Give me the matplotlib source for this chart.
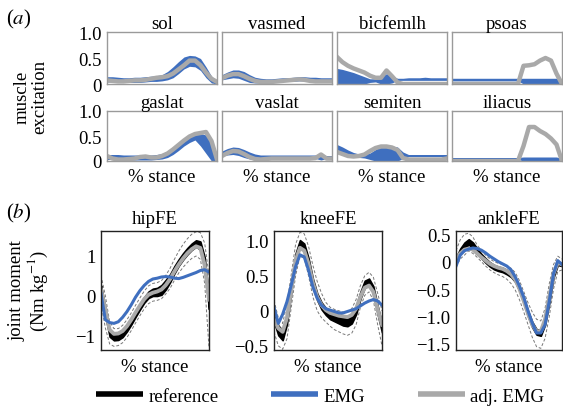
import numpy as np
import matplotlib
matplotlib.use('Agg')
import matplotlib.pyplot as plt
from matplotlib.lines import Line2D

plt.rcParams['font.family'] = ['Liberation Serif', 'DejaVu Serif']
plt.rcParams['mathtext.fontset'] = 'stix'
FS = 13.5
plt.rcParams['font.size'] = FS

BLUE = '#3f6fbf'
GREY = '#a9a9a9'

# ---- (a) muscle excitation, sampled every 5 % stance ----
stance_a = np.linspace(0, 100, 21)

muscles_top = ['sol', 'vasmed', 'bicfemlh', 'psoas']
muscles_bot = ['gaslat', 'vaslat', 'semiten', 'iliacus']

sol_lo = [0.04, 0.04, 0.03, 0.03, 0.03, 0.03, 0.03, 0.04, 0.05, 0.05, 0.06, 0.08, 0.12, 0.20, 0.29, 0.34, 0.33, 0.26, 0.12, 0.02, 0.0]
sol_hi = [0.14, 0.14, 0.13, 0.12, 0.12, 0.13, 0.13, 0.14, 0.15, 0.16, 0.18, 0.24, 0.33, 0.43, 0.52, 0.55, 0.54, 0.49, 0.33, 0.15, 0.06]
sol_adj = [0.07, 0.06, 0.05, 0.05, 0.06, 0.07, 0.07, 0.08, 0.10, 0.12, 0.13, 0.15, 0.20, 0.28, 0.36, 0.45, 0.45, 0.36, 0.22, 0.10, 0.04]

vasmed_lo = [0.08, 0.10, 0.12, 0.11, 0.07, 0.03, 0.02, 0.02, 0.03, 0.04, 0.05, 0.05, 0.05, 0.05, 0.06, 0.06, 0.06, 0.06, 0.06, 0.06, 0.06]
vasmed_hi = [0.18, 0.23, 0.27, 0.27, 0.24, 0.18, 0.13, 0.11, 0.10, 0.10, 0.11, 0.12, 0.12, 0.13, 0.14, 0.14, 0.13, 0.13, 0.12, 0.12, 0.12]
vasmed_adj = [0.11, 0.16, 0.19, 0.19, 0.15, 0.10, 0.06, 0.04, 0.04, 0.04, 0.05, 0.06, 0.07, 0.08, 0.09, 0.08, 0.06, 0.05, 0.05, 0.05, 0.05]

bic_lo = [0.0, 0.0, 0.0, 0.0, 0.0, 0.0, 0.03, 0.04, 0.0, 0.0, 0.02, 0.07, 0.07, 0.07, 0.07, 0.07, 0.07, 0.07, 0.07, 0.07, 0.07]
bic_hi = [0.30, 0.28, 0.25, 0.22, 0.18, 0.14, 0.10, 0.10, 0.14, 0.20, 0.16, 0.11, 0.11, 0.12, 0.12, 0.12, 0.13, 0.12, 0.12, 0.12, 0.12]
bic_adj = [0.52, 0.42, 0.35, 0.30, 0.26, 0.22, 0.16, 0.12, 0.12, 0.26, 0.15, 0.03, 0, 0, 0, 0, 0, 0, 0, 0, 0]

psoas_lo = [0.06, 0.06, 0.06, 0.06, 0.06, 0.06, 0.06, 0.06, 0.06, 0.06, 0.06, 0.06, 0.06, 0.0, 0.0, 0.0, 0.0, 0.0, 0.0, 0.0, 0.0]
psoas_hi = [0.11, 0.11, 0.11, 0.11, 0.11, 0.11, 0.11, 0.11, 0.11, 0.11, 0.11, 0.11, 0.11, 0.11, 0.11, 0.11, 0.11, 0.11, 0.11, 0.11, 0.05]
psoas_adj = [0, 0, 0, 0, 0, 0, 0, 0, 0, 0, 0, 0, 0.0, 0.35, 0.36, 0.38, 0.45, 0.50, 0.45, 0.20, 0.0]

gaslat_lo = [0.03, 0.03, 0.03, 0.02, 0.02, 0.02, 0.02, 0.02, 0.02, 0.03, 0.04, 0.07, 0.13, 0.21, 0.30, 0.37, 0.42, 0.30, 0.15, 0.0, 0.0]
gaslat_hi = [0.13, 0.13, 0.13, 0.12, 0.12, 0.12, 0.12, 0.12, 0.12, 0.13, 0.15, 0.20, 0.28, 0.36, 0.44, 0.52, 0.56, 0.55, 0.52, 0.35, 0.05]
gaslat_adj = [0.10, 0.05, 0.03, 0.03, 0.04, 0.05, 0.08, 0.09, 0.07, 0.07, 0.10, 0.15, 0.23, 0.32, 0.41, 0.49, 0.54, 0.56, 0.58, 0.40, 0.03]

vaslat_lo = [0.10, 0.12, 0.13, 0.11, 0.07, 0.04, 0.03, 0.04, 0.05, 0.05, 0.06, 0.06, 0.06, 0.06, 0.06, 0.06, 0.06, 0.05, 0.02, 0.05, 0.06]
vaslat_hi = [0.20, 0.25, 0.28, 0.27, 0.23, 0.18, 0.14, 0.12, 0.12, 0.12, 0.12, 0.12, 0.12, 0.12, 0.12, 0.12, 0.12, 0.12, 0.12, 0.11, 0.11]
vaslat_adj = [0.10, 0.16, 0.20, 0.19, 0.14, 0.08, 0.04, 0.03, 0.04, 0.05, 0.05, 0.05, 0.05, 0.05, 0.05, 0.05, 0.05, 0.06, 0.13, 0.05, 0.05]

semiten_lo = [0.22, 0.17, 0.12, 0.09, 0.07, 0.06, 0.03, 0.0, 0.0, 0.0, 0.0, 0.0, 0.05, 0.09, 0.09, 0.09, 0.09, 0.09, 0.09, 0.09, 0.09]
semiten_hi = [0.33, 0.28, 0.22, 0.17, 0.14, 0.13, 0.16, 0.23, 0.29, 0.30, 0.30, 0.28, 0.18, 0.13, 0.13, 0.13, 0.13, 0.13, 0.13, 0.13, 0.13]
semiten_adj = [0.18, 0.14, 0.10, 0.09, 0.10, 0.13, 0.20, 0.26, 0.29, 0.29, 0.27, 0.22, 0.06, 0.03, 0.03, 0.03, 0.03, 0.03, 0.03, 0.03, 0.05]

iliacus_lo = [0.03, 0.03, 0.03, 0.03, 0.03, 0.03, 0.03, 0.03, 0.03, 0.03, 0.03, 0.03, 0.03, 0.0, 0.0, 0.0, 0.0, 0.0, 0.0, 0.0, 0.03]
iliacus_hi = [0.07, 0.07, 0.07, 0.07, 0.07, 0.07, 0.07, 0.07, 0.07, 0.07, 0.07, 0.07, 0.07, 0.08, 0.08, 0.08, 0.08, 0.08, 0.08, 0.08, 0.05]
iliacus_adj = [0, 0, 0, 0, 0, 0, 0, 0, 0, 0, 0, 0, 0.0, 0.30, 0.68, 0.68, 0.60, 0.54, 0.45, 0.33, 0.0]

excitation = {
    'sol': (sol_lo, sol_hi, sol_adj),
    'vasmed': (vasmed_lo, vasmed_hi, vasmed_adj),
    'bicfemlh': (bic_lo, bic_hi, bic_adj),
    'psoas': (psoas_lo, psoas_hi, psoas_adj),
    'gaslat': (gaslat_lo, gaslat_hi, gaslat_adj),
    'vaslat': (vaslat_lo, vaslat_hi, vaslat_adj),
    'semiten': (semiten_lo, semiten_hi, semiten_adj),
    'iliacus': (iliacus_lo, iliacus_hi, iliacus_adj),
}

# ---- (b) joint moments, sampled every 4 % stance ----
stance_b = np.linspace(0, 100, 26)

hip_ref = [0.15, -0.40, -0.94, -1.04, -1.03, -0.96, -0.82, -0.65, -0.46, -0.28, -0.11, 0.02, 0.08, 0.09, 0.14, 0.27, 0.43, 0.64, 0.82, 0.97, 1.10, 1.21, 1.29, 1.24, 0.80, -0.19]
hip_sd = [0.10, 0.10, 0.08, 0.07, 0.07, 0.07, 0.07, 0.07, 0.07, 0.07, 0.07, 0.08, 0.09, 0.10, 0.12, 0.12, 0.10, 0.09, 0.08, 0.08, 0.08, 0.08, 0.08, 0.10, 0.15, 0.15]
hip_adj = [0.15, -0.35, -0.85, -0.95, -0.94, -0.88, -0.76, -0.60, -0.42, -0.25, -0.09, 0.02, 0.07, 0.10, 0.15, 0.26, 0.41, 0.60, 0.77, 0.92, 1.05, 1.15, 1.22, 1.18, 0.75, -0.10]
hip_emg = [0.05, -0.60, -0.67, -0.69, -0.65, -0.54, -0.40, -0.23, -0.04, 0.12, 0.25, 0.35, 0.41, 0.43, 0.46, 0.47, 0.46, 0.43, 0.42, 0.45, 0.49, 0.53, 0.57, 0.62, 0.64, 0.58]
hip_dhi = [0.50, 0.0, -0.65, -0.82, -0.82, -0.74, -0.60, -0.43, -0.24, -0.06, 0.11, 0.24, 0.30, 0.32, 0.37, 0.50, 0.68, 0.90, 1.10, 1.27, 1.41, 1.52, 1.58, 1.56, 1.30, 0.50]
hip_dlo = [-0.20, -0.80, -1.20, -1.26, -1.24, -1.17, -1.04, -0.87, -0.68, -0.50, -0.33, -0.20, -0.14, -0.12, -0.08, 0.04, 0.18, 0.38, 0.56, 0.70, 0.82, 0.92, 0.98, 0.90, 0.30, -1.30]

knee_ref = [-0.10, -0.28, -0.35, -0.13, 0.32, 0.77, 0.96, 0.91, 0.70, 0.41, 0.20, 0.07, -0.01, -0.06, -0.09, -0.11, -0.14, -0.15, -0.11, 0.01, 0.22, 0.38, 0.41, 0.30, 0.01, -0.25]
knee_sd = [0.06, 0.07, 0.07, 0.06, 0.05, 0.05, 0.05, 0.05, 0.05, 0.05, 0.05, 0.05, 0.05, 0.06, 0.06, 0.07, 0.07, 0.07, 0.07, 0.06, 0.05, 0.05, 0.05, 0.05, 0.06, 0.06]
knee_adj = [-0.12, -0.25, -0.30, -0.10, 0.30, 0.72, 0.90, 0.86, 0.67, 0.40, 0.20, 0.08, 0.01, -0.03, -0.05, -0.07, -0.08, -0.09, -0.06, 0.03, 0.20, 0.33, 0.36, 0.27, 0.02, -0.20]
knee_emg = [0.05, -0.18, -0.05, 0.13, 0.37, 0.63, 0.80, 0.77, 0.58, 0.34, 0.18, 0.08, 0.03, 0.01, -0.01, -0.03, -0.03, -0.01, 0.01, 0.03, 0.07, 0.11, 0.14, 0.16, 0.14, 0.08]
knee_dhi = [0.15, -0.10, -0.18, 0.10, 0.52, 0.95, 1.12, 1.10, 0.92, 0.65, 0.42, 0.25, 0.12, 0.05, 0.02, 0.0, -0.02, -0.02, 0.03, 0.16, 0.36, 0.50, 0.55, 0.48, 0.25, 0.0]
knee_dlo = [-0.30, -0.50, -0.55, -0.40, 0.05, 0.50, 0.78, 0.75, 0.50, 0.20, 0.0, -0.10, -0.16, -0.22, -0.27, -0.30, -0.33, -0.35, -0.32, -0.20, 0.05, 0.22, 0.27, 0.15, -0.20, -0.50]

ankle_ref = [0.05, 0.20, 0.30, 0.36, 0.30, 0.20, 0.10, 0.02, -0.05, -0.10, -0.13, -0.15, -0.19, -0.24, -0.33, -0.50, -0.72, -0.95, -1.15, -1.28, -1.30, -1.10, -0.70, -0.25, -0.03, -0.05]
ankle_sd = [0.03, 0.04, 0.05, 0.05, 0.05, 0.04, 0.04, 0.04, 0.04, 0.04, 0.04, 0.04, 0.04, 0.04, 0.04, 0.04, 0.04, 0.05, 0.05, 0.05, 0.05, 0.05, 0.05, 0.04, 0.03, 0.03]
ankle_adj = [0.05, 0.15, 0.22, 0.24, 0.22, 0.15, 0.08, 0.02, -0.04, -0.08, -0.11, -0.13, -0.17, -0.23, -0.33, -0.50, -0.72, -0.95, -1.15, -1.27, -1.27, -1.05, -0.65, -0.22, -0.02, -0.05]
ankle_emg = [-0.08, 0.12, 0.20, 0.23, 0.25, 0.24, 0.21, 0.16, 0.10, 0.05, 0.0, -0.04, -0.08, -0.15, -0.28, -0.45, -0.65, -0.90, -1.12, -1.30, -1.30, -1.15, -0.72, -0.22, 0.02, -0.05]
ankle_dhi = [0.20, 0.40, 0.50, 0.52, 0.45, 0.30, 0.20, 0.12, 0.05, 0.0, -0.03, -0.05, -0.08, -0.12, -0.20, -0.35, -0.55, -0.75, -0.92, -1.05, -1.08, -0.85, -0.40, -0.05, 0.10, 0.05]
ankle_dlo = [-0.10, 0.05, 0.12, 0.20, 0.15, 0.08, 0.0, -0.08, -0.15, -0.20, -0.24, -0.27, -0.32, -0.40, -0.52, -0.70, -0.92, -1.15, -1.38, -1.55, -1.58, -1.40, -1.00, -0.50, -0.18, -0.15]

joints = ['hipFE', 'kneeFE', 'ankleFE']
moments = {
    'hipFE': (hip_ref, hip_sd, hip_adj, hip_emg, hip_dlo, hip_dhi),
    'kneeFE': (knee_ref, knee_sd, knee_adj, knee_emg, knee_dlo, knee_dhi),
    'ankleFE': (ankle_ref, ankle_sd, ankle_adj, ankle_emg, ankle_dlo, ankle_dhi),
}
joint_ylim = {'hipFE': (-1.35, 1.6), 'kneeFE': (-0.56, 1.14), 'ankleFE': (-1.61, 0.56)}
joint_ticks = {
    'hipFE': ([1, 0, -1], ['1', '0', '\u22121']),
    'kneeFE': ([1.0, 0.5, 0, -0.5], ['1.0', '0.5', '0', '\u22120.5']),
    'ankleFE': ([0.5, 0, -0.5, -1.0, -1.5], ['0.5', '0', '\u22120.5', '\u22121.0', '\u22121.5']),
}

W, H = 563, 414
fig = plt.figure(figsize=(W / 100, H / 100), dpi=100)


def px_axes(x0, y0, x1, y1):
    return fig.add_axes([x0 / W, 1 - y1 / H, (x1 - x0) / W, (y1 - y0) / H])


# ---- panel (a) ----
col_x = [(107, 217), (222, 332), (337, 447), (452, 562)]
row_y = [(33, 85), (112, 162)]
for r, names in enumerate([muscles_top, muscles_bot]):
    for c, name in enumerate(names):
        ax = px_axes(col_x[c][0], row_y[r][0], col_x[c][1], row_y[r][1])
        lo, hi, adj = excitation[name]
        ax.fill_between(stance_a, lo, hi, color=BLUE, lw=0)
        ax.plot(stance_a, adj, color=GREY, lw=3.2, solid_joinstyle='round')
        ax.set_xlim(0, 100)
        ax.set_ylim(0, 1)
        ax.set_xticks([])
        ax.set_yticks([0, 0.5, 1.0])
        ax.tick_params(axis='y', length=0, pad=4, labelsize=FS)
        if c == 0:
            ax.set_yticklabels(['0', '0.5', '1.0'])
        else:
            ax.set_yticklabels([])
        for s in ax.spines.values():
            s.set_color('#9a9a9a')
            s.set_linewidth(1.0)
        ax.set_title(name, fontsize=FS, pad=2)
        if r == 1:
            ax.set_xlabel('% stance', fontsize=FS, labelpad=5)

# ---- panel (b) ----
joint_x = [(101, 209), (274, 382), (456, 562)]
for c, name in enumerate(joints):
    ax = px_axes(joint_x[c][0], 232, joint_x[c][1], 351)
    ref, sd, adj, emg, dlo, dhi = moments[name]
    ref = np.array(ref)
    sd = np.array(sd)
    ax.plot(stance_b, dlo, color='#777777', lw=0.7, ls=(0, (3, 2)))
    ax.plot(stance_b, dhi, color='#777777', lw=0.7, ls=(0, (3, 2)))
    ax.fill_between(stance_b, ref - sd, ref + sd, color='black', lw=1.2, edgecolor='black')
    ax.plot(stance_b, adj, color=GREY, lw=2.8)
    ax.plot(stance_b, emg, color=BLUE, lw=2.2)
    ax.set_xlim(0, 100)
    ax.set_ylim(*joint_ylim[name])
    ax.set_xticks([])
    ticks, labels = joint_ticks[name]
    ax.set_yticks(ticks)
    ax.set_yticklabels(labels)
    ax.tick_params(axis='y', length=0, pad=4, labelsize=FS)
    for s in ax.spines.values():
        s.set_color('#222222')
        s.set_linewidth(1.0)
    ax.set_title(name, fontsize=FS, pad=6)
    ax.set_xlabel('% stance', fontsize=FS, labelpad=6)

fig.text(6 / W, 1 - 19 / H, '($a$)', fontsize=15, va='center', ha='left')
fig.text(6 / W, 1 - 213 / H, '($b$)', fontsize=15, va='center', ha='left')
fig.text(31 / W, 1 - 97 / H, 'muscle\nexcitation', rotation=90, ha='center', va='center',
         fontsize=FS, linespacing=1.0)
fig.text(29 / W, 1 - 291 / H, 'joint moment\n(Nm kg$^{-1}$)', rotation=90, ha='center',
         va='center', fontsize=FS, linespacing=1.0)

handles = [Line2D([], [], color='black', lw=4, solid_capstyle='butt'),
           Line2D([], [], color=BLUE, lw=4, solid_capstyle='butt'),
           Line2D([], [], color=GREY, lw=4, solid_capstyle='butt')]
fig.legend(handles, ['reference', 'EMG', 'adj. EMG'], loc='center',
           bbox_to_anchor=(320 / W, 1 - 397 / H), ncol=3, frameon=False,
           handlelength=2.5, handletextpad=0.3, columnspacing=2.8, fontsize=FS)

fig.savefig('out.png', dpi=100)
